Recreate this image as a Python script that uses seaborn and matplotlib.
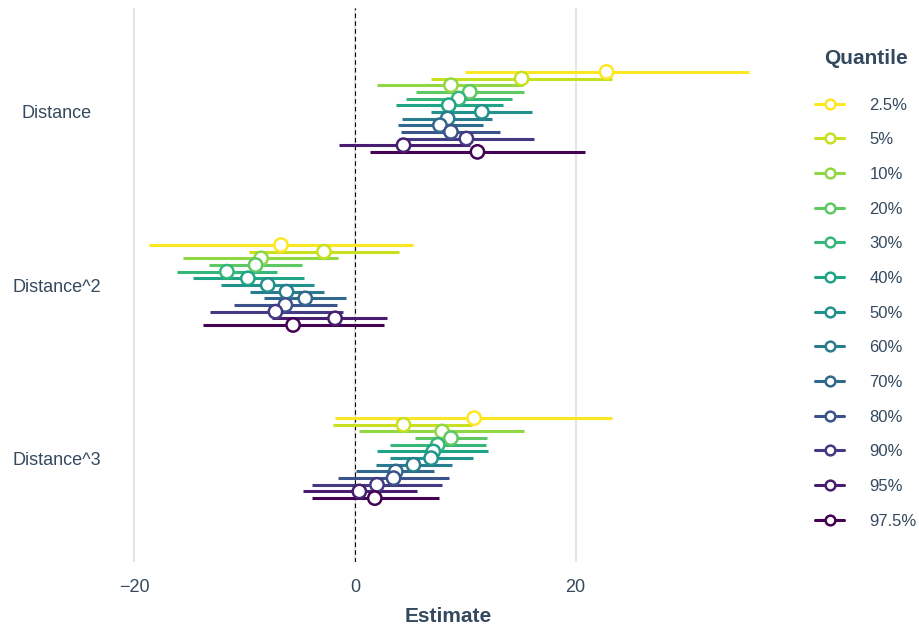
import numpy as np
import pandas as pd
import seaborn as sns
import matplotlib.pyplot as plt
from matplotlib.lines import Line2D

terms = ['Distance', 'Distance^2', 'Distance^3']
quantiles = ['2.5%', '5%', '10%', '20%', '30%', '40%', '50%', '60%', '70%', '80%', '90%', '95%', '97.5%']

# estimates and interval ends, one list per term, in quantile order
dist_est = [22.8, 15.1, 8.7, 10.4, 9.4, 8.5, 11.5, 8.4, 7.7, 8.7, 10.1, 4.4, 11.1]
dist_lo = [10.0, 6.9, 2.0, 5.5, 4.6, 3.7, 6.9, 4.3, 3.9, 4.2, 4.0, -1.4, 1.4]
dist_hi = [35.7, 23.3, 15.2, 15.3, 14.2, 13.4, 16.0, 12.4, 11.6, 13.1, 16.2, 10.4, 20.8]

dist2_est = [-6.7, -2.8, -8.5, -9.0, -11.6, -9.7, -7.9, -6.2, -4.5, -6.3, -7.2, -1.8, -5.6]
dist2_lo = [-18.7, -9.6, -15.6, -13.2, -16.1, -14.7, -12.1, -9.5, -8.2, -11.0, -13.1, -7.5, -13.8]
dist2_hi = [5.3, 4.0, -1.5, -4.8, -7.1, -4.6, -3.7, -2.8, -0.8, -1.6, -1.1, 2.9, 2.6]

dist3_est = [10.8, 4.4, 7.9, 8.7, 7.5, 7.1, 6.9, 5.3, 3.7, 3.5, 2.0, 0.4, 1.8]
dist3_lo = [-1.8, -2.0, 0.4, 5.4, 3.2, 2.0, 3.2, 1.9, 0.1, -1.5, -3.9, -4.7, -3.9]
dist3_hi = [23.3, 10.6, 15.3, 12.0, 11.9, 12.1, 10.7, 8.8, 7.2, 8.5, 7.9, 5.6, 7.6]

text_color = '#34495E'
colors = [plt.cm.viridis(v) for v in np.linspace(1, 0, len(quantiles))]
palette = dict(zip(quantiles, colors))

rows = []
for t, (est, lo, hi) in enumerate([(dist_est, dist_lo, dist_hi),
                                    (dist2_est, dist2_lo, dist2_hi),
                                    (dist3_est, dist3_lo, dist3_hi)]):
    for q in range(len(quantiles)):
        rows.append({'term': terms[t], 'quantile': quantiles[q],
                     'ypos': t + (q - 6) * 0.0385,
                     'estimate': est[q], 'lo': lo[q], 'hi': hi[q]})
df = pd.DataFrame(rows)

sns.set_theme(style='white')
plt.rcParams['font.family'] = ['Liberation Sans', 'DejaVu Sans']

fig = plt.figure(figsize=(9.19, 6.26), dpi=100)
ax = fig.add_axes([118.5 / 919, 1 - 562 / 626, (779 - 118.5) / 919, (562 - 8) / 626])

ax.hlines(df['ypos'], df['lo'], df['hi'], colors=[palette[q] for q in df['quantile']],
          linewidth=2.2, zorder=2)
sns.scatterplot(data=df, x='estimate', y='ypos', hue='quantile', palette=palette,
                s=92, linewidth=1.8, legend=False, ax=ax, zorder=3)
pts = ax.collections[-1]
pts.set_edgecolors(pts.get_facecolors())
pts.set_facecolors('white')

ax.axvline(0, color='black', linewidth=0.8, linestyle=(0, (4, 3)), zorder=1.5)

lo_all = df['lo'].min()
hi_all = df['hi'].max()
pad = 0.05 * (hi_all - lo_all)
ax.set_xlim(lo_all - pad, hi_all + pad)
ax.set_ylim(2.6, -0.6)
ax.set_xticks([-20, 0, 20])
ax.set_yticks(range(len(terms)))
ax.set_yticklabels(terms, ha='center')
ax.grid(axis='x', color='#E5E5E5', linewidth=1.5, zorder=0)
ax.grid(axis='y', visible=False)
ax.set_axisbelow(True)
for s in ax.spines.values():
    s.set_visible(False)
ax.tick_params(axis='x', length=0, pad=12, labelsize=13, labelcolor=text_color)
ax.tick_params(axis='y', length=0, pad=44.3, labelsize=13, labelcolor=text_color)
ax.set_xlabel('Estimate', fontsize=15, fontweight='bold', color=text_color, labelpad=8)
ax.set_ylabel('')

handles = [Line2D([0], [0], color=palette[q], linewidth=2.2, marker='o',
                  markersize=7, markerfacecolor='white', markeredgecolor=palette[q],
                  markeredgewidth=1.8) for q in quantiles]
leg = fig.legend(handles, quantiles, loc='upper left', bbox_to_anchor=(807 / 919, 1 - 41 / 626),
                 frameon=False, fontsize=12, labelspacing=1.18, handlelength=1.7,
                 handletextpad=1.55, borderpad=0, title='Quantile',
                 title_fontproperties={'weight': 'bold', 'size': 15})
leg.get_title().set_color(text_color)
for txt in leg.get_texts():
    txt.set_color(text_color)
leg._legend_box.sep = 21

fig.savefig('out.png', dpi=100)
